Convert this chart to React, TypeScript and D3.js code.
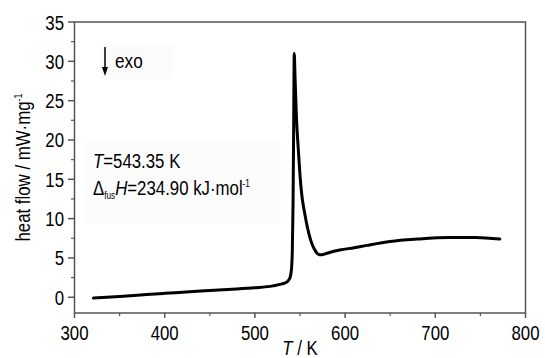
import React, { useEffect, useRef } from "react";
import * as d3 from "d3";

// DSC trace (T in K, heat flow in mW/mg)
const temperature = [
  321, 350, 380, 400, 440, 470, 500, 520, 530, 536, 539, 540.5, 541.5, 542.3,
  543, 543.6, 544.5, 546, 548, 550, 552, 555, 558, 562, 566, 570, 574, 580,
  594, 610, 624, 650, 680, 716, 745, 771.5,
];
const heatFlow = [
  -0.1, 0.1, 0.35, 0.5, 0.8, 1.0, 1.2, 1.45, 1.7, 2.0, 2.5, 3.5, 6, 12, 22,
  31.0, 28, 23, 19, 15.5, 13.0, 10.8, 9.0, 7.2, 6.1, 5.5, 5.4, 5.6, 6.0, 6.3,
  6.6, 7.1, 7.4, 7.6, 7.6, 7.4,
];
const xTicks = [300, 400, 500, 600, 700, 800];
const xMinor = [350, 450, 550, 650, 750];
const yTicks = [0, 5, 10, 15, 20, 25, 30, 35];
const yMinor = [2.5, 7.5, 12.5, 17.5, 22.5, 27.5, 32.5];

const FONT = "'Liberation Sans', Arial, sans-serif";
const FS = "20.5px";
const NARROW = 0.82; // squeeze Arial into an Arial Narrow look

const App = () => {
  const ref = useRef<SVGSVGElement>(null);

  useEffect(() => {
    const W = 545;
    const H = 358;
    const margin = { top: 22, right: 20, bottom: 45, left: 74.5 };
    const width = 525.5 - margin.left;
    const height = 313 - margin.top;

    const root = d3.select(ref.current);
    root.selectAll("*").remove();
    root.attr("width", W).attr("height", H);

    const svg = root
      .append("g")
      .attr("transform", `translate(${margin.left},${margin.top})`);

    const x = d3.scaleLinear().domain([300, 800]).range([0, width]);
    const y = d3.scaleLinear().domain([-2, 35]).range([height, 0]);

    const axisColor = "#555";

    // text helper: narrow text placed at (px, py)
    const label = (px: number, py: number, anchor = "start", extra = "") =>
      svg
        .append("g")
        .attr("transform", `translate(${px},${py}) ${extra} scale(${NARROW},1)`)
        .append("text")
        .attr("text-anchor", anchor)
        .style("font-family", FONT)
        .style("font-size", FS);

    // faint boxes behind the annotations
    svg.append("rect").attr("x", 26).attr("y", 23).attr("width", 72).attr("height", 34).attr("fill", "#fbfbfb");
    svg.append("rect").attr("x", 10).attr("y", 118).attr("width", 196).attr("height", 84).attr("fill", "#fcfcfc");

    // frame
    svg
      .append("rect")
      .attr("width", width)
      .attr("height", height)
      .attr("fill", "none")
      .attr("stroke", axisColor)
      .attr("stroke-width", 1.5);

    // x ticks
    svg
      .selectAll("line.xmaj")
      .data(xTicks)
      .join("line")
      .attr("x1", (d) => x(d))
      .attr("x2", (d) => x(d))
      .attr("y1", height)
      .attr("y2", height + 5)
      .attr("stroke", axisColor)
      .attr("stroke-width", 1.5);
    svg
      .selectAll("line.xmin")
      .data(xMinor)
      .join("line")
      .attr("x1", (d) => x(d))
      .attr("x2", (d) => x(d))
      .attr("y1", height)
      .attr("y2", height + 3)
      .attr("stroke", axisColor)
      .attr("stroke-width", 1.2);
    xTicks.forEach((t) => label(x(t), height + 27, "middle").text(t));

    // y ticks
    svg
      .selectAll("line.ymaj")
      .data(yTicks)
      .join("line")
      .attr("x1", -6.5)
      .attr("x2", 0)
      .attr("y1", (d) => y(d))
      .attr("y2", (d) => y(d))
      .attr("stroke", axisColor)
      .attr("stroke-width", 1.5);
    svg
      .selectAll("line.ymin")
      .data(yMinor)
      .join("line")
      .attr("x1", -3.5)
      .attr("x2", 0)
      .attr("y1", (d) => y(d))
      .attr("y2", (d) => y(d))
      .attr("stroke", axisColor)
      .attr("stroke-width", 1.2);
    yTicks.forEach((t) => label(-10.5, y(t) + 7.5, "end").text(t));

    // axis titles
    const xt = label(width / 2, height + 41.5, "middle");
    xt.append("tspan").style("font-style", "italic").text("T");
    xt.append("tspan").text(" / K");

    const yt = label(-44.5, height / 2, "middle", "rotate(-90)");
    yt.append("tspan").text("heat flow / mW·mg");
    yt.append("tspan").attr("dy", -8).style("font-size", "11px").text("-1");

    // exo arrow
    const ax = 30.5;
    svg
      .append("line")
      .attr("x1", ax)
      .attr("x2", ax)
      .attr("y1", 25)
      .attr("y2", 47)
      .attr("stroke", "#000")
      .attr("stroke-width", 1.5);
    svg
      .append("path")
      .attr("d", `M${ax - 3},${45} L${ax + 3},${45} L${ax},${54} Z`)
      .attr("fill", "#000");
    label(40.5, 46).style("font-size", "21px").text("exo");

    // T and enthalpy annotation
    const t1 = label(18.5, 146);
    t1.append("tspan").style("font-style", "italic").text("T");
    t1.append("tspan").text("=543.35 K");

    const t2 = label(18.5, 173);
    t2.append("tspan").text("Δ");
    t2.append("tspan").attr("dy", 4).style("font-size", "10px").text("fus");
    t2.append("tspan").attr("dy", -4).style("font-style", "italic").text("H");
    t2.append("tspan").text("=234.90 kJ·mol");
    t2.append("tspan").attr("dy", -8).style("font-size", "10px").text("-1");

    // the DSC curve
    const pts = temperature.map((t, i) => [t, heatFlow[i]] as [number, number]);
    const line = d3
      .line<[number, number]>()
      .x((d) => x(d[0]))
      .y((d) => y(d[1]))
      .curve(d3.curveMonotoneX);
    svg
      .append("path")
      .datum(pts)
      .attr("d", line)
      .attr("fill", "none")
      .attr("stroke", "#000")
      .attr("stroke-width", 3)
      .attr("stroke-linejoin", "round")
      .attr("stroke-linecap", "round");
  }, []);

  return <svg ref={ref} style={{ position: "absolute", left: 0, top: 0 }}></svg>;
};

export default App;
